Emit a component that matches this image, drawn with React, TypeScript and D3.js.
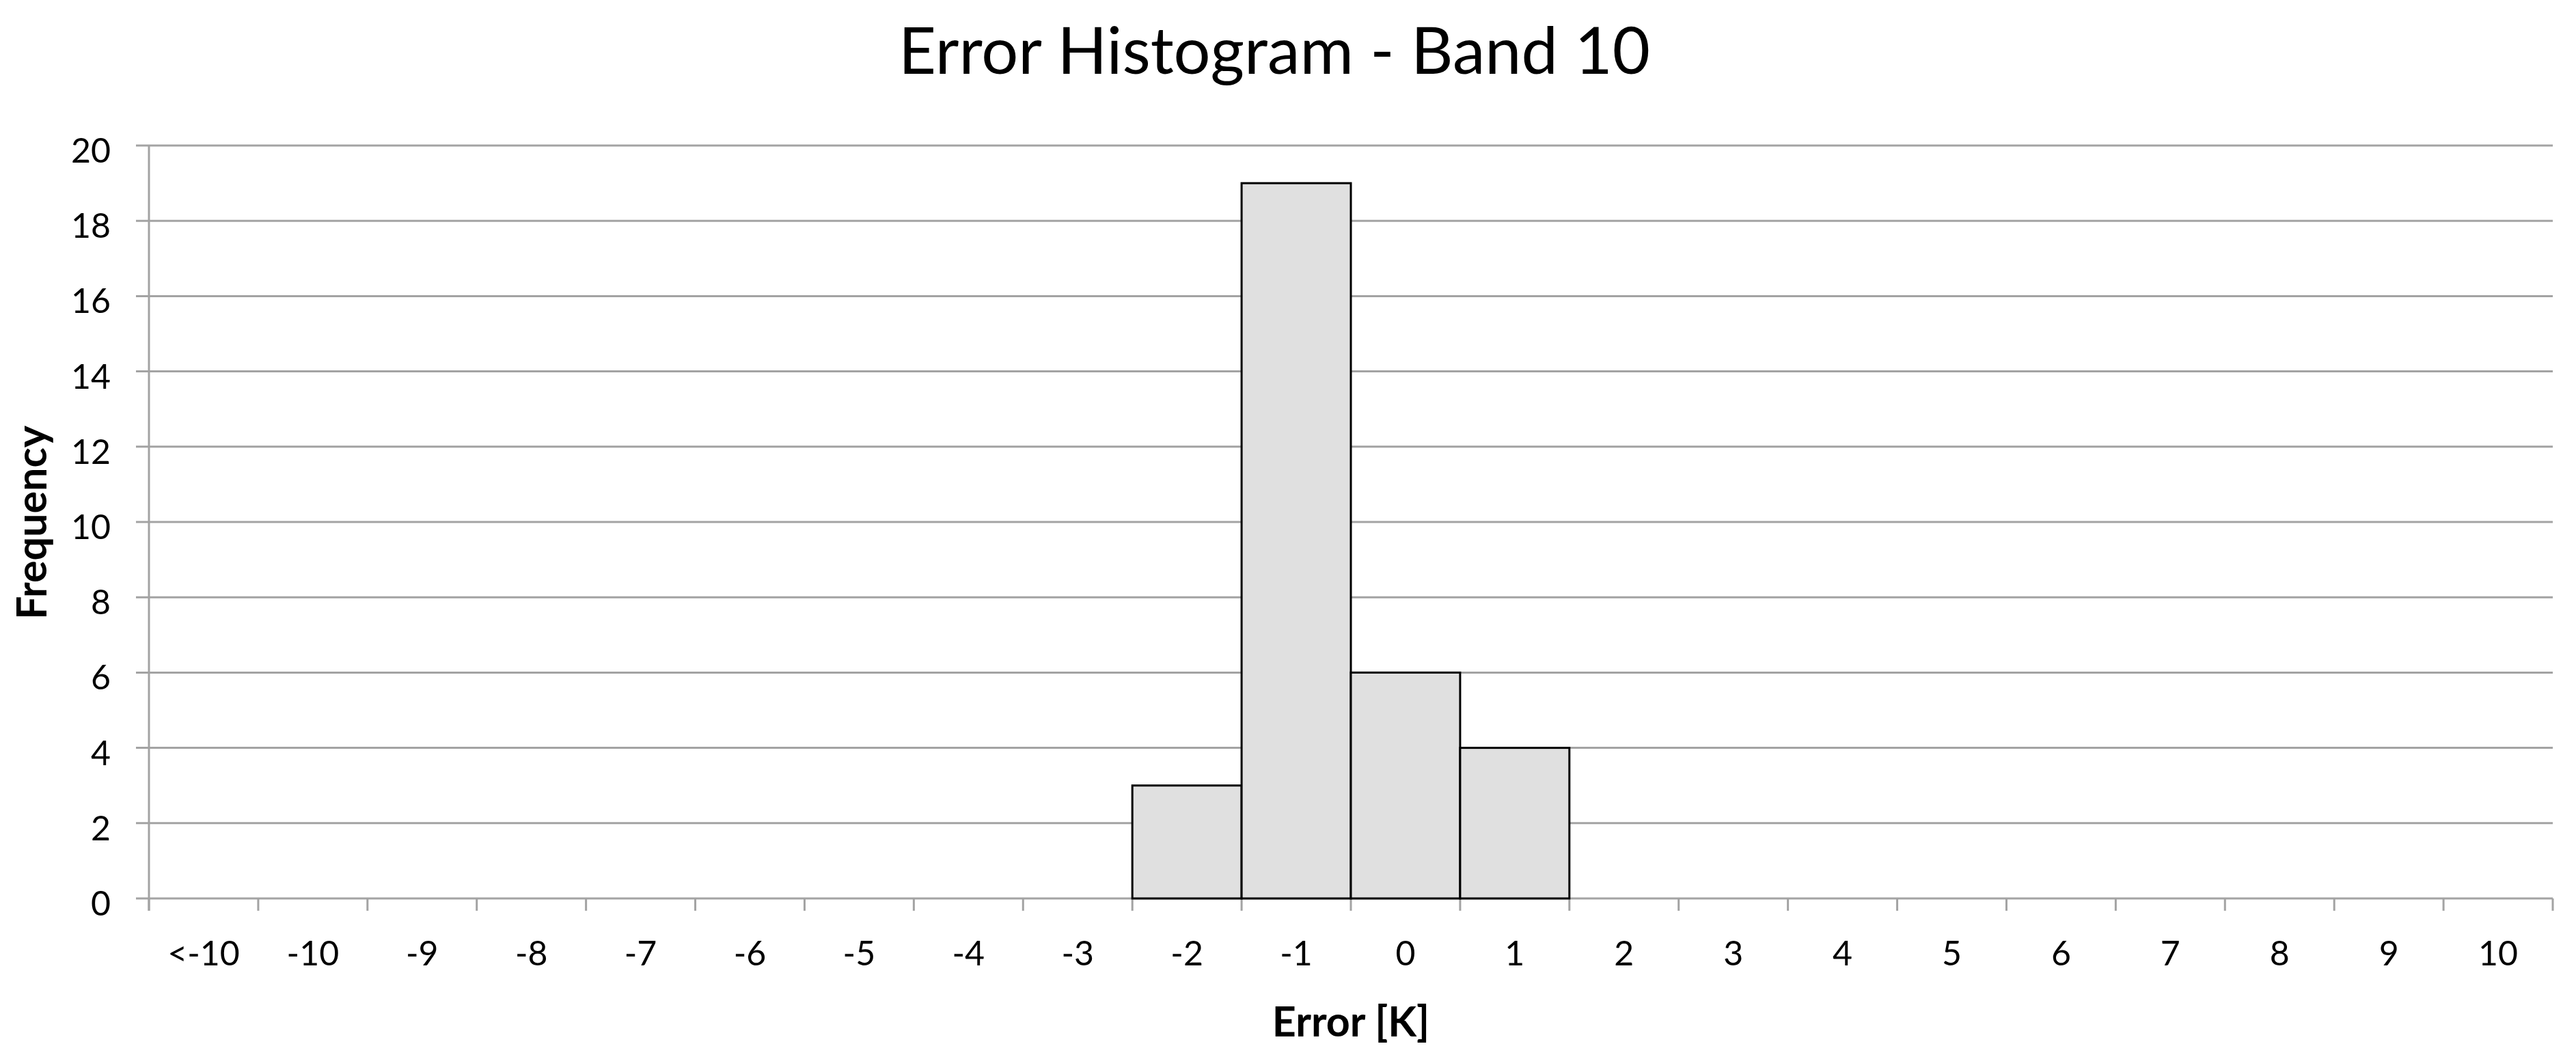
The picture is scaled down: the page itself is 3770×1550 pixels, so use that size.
import React from "react";
import * as d3 from "d3";

const categories = ["<-10", "-10", "-9", "-8", "-7", "-6", "-5", "-4", "-3", "-2", "-1", "0", "1", "2", "3", "4", "5", "6", "7", "8", "9", "10"];
const frequencies = [0, 0, 0, 0, 0, 0, 0, 0, 0, 3, 19, 6, 4, 0, 0, 0, 0, 0, 0, 0, 0, 0];
const yTicks = [0, 2, 4, 6, 8, 10, 12, 14, 16, 18, 20];
const titleText = "Error Histogram - Band 10";
const xTitle = "Error [K]";
const yTitle = "Frequency";

const W = 3770;
const H = 1550;
const left = 218;
const right = 3736;
const top = 213;
const bottom = 1315;
const FONT = "Lato, 'Open Sans', sans-serif";
const GRID = "#a3a3a3";

export default function App() {
  const x = d3.scaleBand<string>().domain(categories).range([left, right]).padding(0);
  const y = d3.scaleLinear().domain([0, 20]).range([bottom, top]);
  const bw = x.bandwidth();
  const boundaries = categories.map((c) => x(c)!).concat([right]);

  return (
    <svg width={W} height={H} style={{ position: "absolute", left: 0, top: 0, background: "#fff" }}>
      <rect x={0} y={0} width={W} height={H} fill="#fff" />
      <text x={1865} y={108} textAnchor="middle" fontFamily={FONT} fontSize={95} fill="#000" textLength={1100} lengthAdjust="spacingAndGlyphs">
        {titleText}
      </text>
      {yTicks.map((t) => (
        <g key={t}>
          <line x1={left - 19} x2={right} y1={y(t)} y2={y(t)} stroke={GRID} strokeWidth={3} />
          <text x={162} y={y(t) + 25} textAnchor="end" fontFamily={FONT} fontSize={50} fill="#000">
            {t}
          </text>
        </g>
      ))}
      <line x1={left} x2={left} y1={top} y2={bottom + 18} stroke={GRID} strokeWidth={3} />
      {boundaries.map((b, i) => (
        <line key={i} x1={b} x2={b} y1={bottom} y2={bottom + 18} stroke={GRID} strokeWidth={3} />
      ))}
      {categories.map((c, i) =>
        frequencies[i] > 0 ? (
          <rect
            key={c}
            x={x(c)!}
            y={y(frequencies[i])}
            width={bw}
            height={bottom - y(frequencies[i])}
            fill="#e0e0e0"
            stroke="#000"
            strokeWidth={3}
          />
        ) : null
      )}
      {categories.map((c) => (
        <text key={c} x={x(c)! + bw / 2} y={1413} textAnchor="middle" fontFamily={FONT} fontSize={50} fill="#000">
          {c}
        </text>
      ))}
      <text x={1977} y={1517} textAnchor="middle" fontFamily={FONT} fontSize={61} fontWeight="bold" fill="#000">
        {xTitle}
      </text>
      <text
        transform={`translate(68,765) rotate(-90)`}
        textAnchor="middle"
        fontFamily={FONT}
        fontSize={61}
        fontWeight="bold"
        fill="#000"
      >
        {yTitle}
      </text>
    </svg>
  );
}
